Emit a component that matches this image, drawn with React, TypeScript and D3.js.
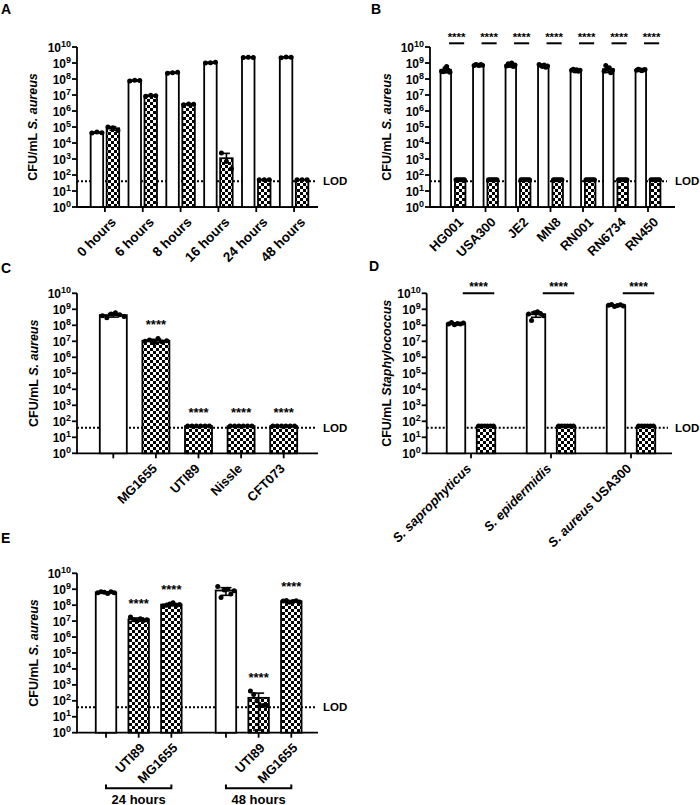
import React from 'react';
import * as d3 from 'd3';

// ---------- DATA ----------
const LOD = 40;
const decades = d3.range(0, 11);

const groupsA = ['0 hours', '6 hours', '8 hours', '16 hours', '24 hours', '48 hours'];
const ctrlA = [
  [4.2e4, 4.9e4, 4.4e4],
  [7.5e7, 8.5e7, 8e7],
  [2.3e8, 2.5e8, 2.6e8],
  [1.0e9, 1.05e9, 1.1e9],
  [2.2e9, 2.3e9, 2.2e9],
  [2.1e9, 2.4e9, 2.3e9],
];
const treatA = [
  [1e5, 9e4, 6e4],
  [8.5e6, 9.5e6, 9e6],
  [2.5e6, 2.7e6, 2.6e6],
  [2400, 700, 250],
  [50, 50, 50],
  [50, 50, 50],
];

const strainsB = ['HG001', 'USA300', 'JE2', 'MN8', 'RN001', 'RN6734', 'RN450'];
const ctrlB = [
  [3e8, 2.8e8, 4.5e8, 6e8, 3.5e8, 2.6e8],
  [7e8, 8e8, 7.5e8, 7e8, 8e8, 7.2e8],
  [6.5e8, 9e8, 7e8, 1e9, 6e8, 7.5e8],
  [8e8, 7e8, 6e8, 7.5e8, 5.5e8, 6.5e8],
  [3.5e8, 4e8, 3.2e8, 3.8e8, 3e8, 3.5e8],
  [3e8, 7e8, 4e8, 5e8, 2.5e8, 3.5e8],
  [3.5e8, 4e8, 3.8e8, 3.3e8, 3.6e8, 3.9e8],
];
const treatB = strainsB.map(() => [50, 50, 50, 50, 50, 50]);

const labelsC = ['', 'MG1655', 'UTI89', 'Nissle', 'CFT073'];
const kindC = ['ctrl', 'treat', 'treat', 'treat', 'treat'];
const valuesC = [
  [4e8, 3e8, 5e8, 6e8, 4.5e8, 3.5e8],
  [1e7, 1.2e7, 8e6, 1.5e7, 9e6, 1.1e7],
  [50, 50, 50, 50, 50, 50],
  [50, 50, 50, 50, 50, 50],
  [50, 50, 50, 50, 50, 50],
];
const starsC = [false, true, true, true, true];

const speciesD = [
  [{ t: 'S. saprophyticus', i: true }],
  [{ t: 'S. epidermidis', i: true }],
  [{ t: 'S. aureus', i: true }, { t: ' USA300', i: false }],
];
const ctrlD = [
  [1.2e8, 1.5e8, 1.1e8, 1.3e8, 1.2e8, 1.4e8],
  [5e8, 2e8, 6e8, 7e8, 5.5e8, 4e8],
  [1.8e9, 2e9, 1.5e9, 1.7e9, 1.9e9, 1.6e9],
];
const treatD = speciesD.map(() => [50, 50, 50, 50, 50, 50]);

const labelsE = ['', 'UTI89', 'MG1655', '', 'UTI89', 'MG1655'];
const kindE = ['ctrl', 'treat', 'treat', 'ctrl', 'treat', 'treat'];
const timesE = ['24 hours', '48 hours'];
const valuesE = [
  [6e8, 7e8, 6.5e8, 5.5e8, 7e8, 6e8],
  [1.8e7, 1.2e7, 1e7, 1.4e7, 1.1e7, 1.2e7],
  [9e7, 1e8, 1.2e8, 1.4e8, 9.5e7, 1.1e8],
  [1.5e9, 3e8, 9e8, 1e9, 5e8, 8e8],
  [420, 250, 100, 50, 50, 50],
  [1.8e8, 2e8, 1.5e8, 1.7e8, 1.9e8, 1.6e8],
];
const starsE = [false, true, true, false, true, true];

// ---------- DRAWING ----------
const FONT = "'Liberation Sans', Arial, Helvetica, sans-serif";
const SW = 1.8;

type Seg = { t: string; i: boolean };

function Bar({ cx, w, pts, kind, y }: any) {
  const m = d3.mean(pts) as number;
  const sd = pts.length > 1 ? (d3.deviation(pts) as number) : 0;
  const base = y.range()[0];
  const top = y(m);
  const n = pts.length;
  const spacing = n > 1 ? Math.min((w * 0.8) / (n - 1), 5) : 0;
  const cap = Math.min(w * 0.55, 11);
  return (
    <g>
      <rect x={cx - w / 2} y={top} width={w} height={base - top}
        fill={kind === 'ctrl' ? '#fff' : 'url(#check)'} stroke="#000" strokeWidth={SW} />
      {sd > 0 && (
        <g stroke="#000" strokeWidth={1.6}>
          <line x1={cx} x2={cx} y1={y(m + sd)} y2={m - sd > 1 ? y(m - sd) : top} />
          <line x1={cx - cap / 2} x2={cx + cap / 2} y1={y(m + sd)} y2={y(m + sd)} />
          {m - sd > 1 && <line x1={cx - cap / 2} x2={cx + cap / 2} y1={y(m - sd)} y2={y(m - sd)} />}
        </g>
      )}
      {pts.map((v: number, i: number) => (
        <circle key={i} cx={cx + (i - (n - 1) / 2) * spacing} cy={y(v)} r={2.5} fill="#000" />
      ))}
    </g>
  );
}

function Axes({ x0, x1, y, title, titleX }: { x0: number; x1: number; y: any; title: Seg[]; titleX: number }) {
  const [b, t] = y.range();
  return (
    <g fontFamily={FONT} fontWeight="bold">
      <line x1={x0} x2={x0} y1={b} y2={t} stroke="#000" strokeWidth={SW} />
      <line x1={x0 - 0.9} x2={x1} y1={b} y2={b} stroke="#000" strokeWidth={SW} />
      {decades.map((e) => (
        <g key={e}>
          <line x1={x0 - 5} x2={x0} y1={y(10 ** e)} y2={y(10 ** e)} stroke="#000" strokeWidth={SW} />
          <text x={x0 - 6} y={y(10 ** e) + 4.5} textAnchor="end" fontSize={12}>
            10<tspan dy={-5} fontSize={9}>{e}</tspan>
          </text>
        </g>
      ))}
      <text transform={`translate(${titleX},${(b + t) / 2}) rotate(-90)`} textAnchor="middle" fontSize={12.5}>
        {title.map((s, i) => (
          <tspan key={i} fontStyle={s.i ? 'italic' : 'normal'}>{s.t}</tspan>
        ))}
      </text>
    </g>
  );
}

function XTick({ x, b, label, dx, size = 13 }: { x: number; b: number; label: Seg[]; dx: number; size?: number }) {
  return (
    <g>
      <line x1={x} x2={x} y1={b} y2={b + 5} stroke="#000" strokeWidth={SW} />
      <text transform={`translate(${x + dx},${b + 16}) rotate(-45)`} textAnchor="end"
        fontFamily={FONT} fontWeight="bold" fontSize={size}>
        {label.map((s, i) => (
          <tspan key={i} fontStyle={s.i ? 'italic' : 'normal'}>{s.t}</tspan>
        ))}
      </text>
    </g>
  );
}

function LodLine({ x0, x1, y, textX }: any) {
  return (
    <g>
      <line x1={x0} x2={x1} y1={y(LOD)} y2={y(LOD)} stroke="#000" strokeWidth={2} strokeDasharray="2,2" />
      <text x={textX} y={y(LOD) + 4} fontFamily={FONT} fontWeight="bold" fontSize={11.5}>LOD</text>
    </g>
  );
}

function Stars({ x, yb, size = 13 }: any) {
  return (
    <text x={x} y={yb} textAnchor="middle" fontFamily={FONT} fontWeight="bold" fontSize={size}>****</text>
  );
}

const plain = (t: string): Seg[] => [{ t, i: false }];
const titleSA: Seg[] = [{ t: 'CFU/mL ', i: false }, { t: 'S. aureus', i: true }];
const titleStaph: Seg[] = [{ t: 'CFU/mL ', i: false }, { t: 'Staphylococcus', i: true }];

function PanelA() {
  const y = d3.scaleLog().domain([1, 1e10]).range([207, 47]);
  const x = d3.scaleBand().domain(groupsA).range([86, 313]);
  const w = 12.5, off = 8;
  return (
    <g>
      <Axes x0={77} x1={318} y={y} title={titleSA} titleX={37} />
      <LodLine x0={77} x1={317} y={y} textX={323} />
      {groupsA.map((g, i) => {
        const c = (x(g) as number) + x.bandwidth() / 2;
        return (
          <g key={g}>
            <Bar cx={c - off} w={w} pts={ctrlA[i]} kind="ctrl" y={y} />
            <Bar cx={c + off} w={w} pts={treatA[i]} kind="treat" y={y} />
            <XTick x={c} b={207} label={plain(g)} dx={12} size={13.5} />
          </g>
        );
      })}
    </g>
  );
}

function PanelB() {
  const y = d3.scaleLog().domain([1, 1e10]).range([207, 47]);
  const x = d3.scaleBand().domain(strainsB).range([436.75, 664.25]);
  const w = 10.5, off = 7.2;
  return (
    <g>
      <Axes x0={430} x1={675} y={y} title={titleSA} titleX={391} />
      <LodLine x0={430} x1={667} y={y} textX={675} />
      {strainsB.map((g, i) => {
        const c = (x(g) as number) + x.bandwidth() / 2;
        const lc = c + off / 2;
        return (
          <g key={g}>
            <Bar cx={c - off} w={w} pts={ctrlB[i]} kind="ctrl" y={y} />
            <Bar cx={c + off} w={w} pts={treatB[i]} kind="treat" y={y} />
            <XTick x={c} b={207} label={plain(g)} dx={11} />
            <line x1={lc - off * 1.05} x2={lc + off * 1.05} y1={43.3} y2={43.3} stroke="#000" strokeWidth={2} />
            <Stars x={lc} yb={41} size={11.5} />
          </g>
        );
      })}
    </g>
  );
}

function PanelC() {
  const y = d3.scaleLog().domain([1, 1e10]).range([453.3, 293.3]);
  const x = d3.scaleBand().domain(d3.range(labelsC.length).map(String)).range([92, 305]);
  const w = 27;
  return (
    <g>
      <Axes x0={77} x1={318} y={y} title={titleSA} titleX={38} />
      <LodLine x0={77} x1={317} y={y} textX={323} />
      {labelsC.map((g, i) => {
        const c = (x(String(i)) as number) + x.bandwidth() / 2;
        const maxY = y(d3.max(valuesC[i]) as number);
        return (
          <g key={i}>
            <Bar cx={c} w={w} pts={valuesC[i]} kind={kindC[i]} y={y} />
            <XTick x={c} b={453.3} label={plain(g)} dx={2} />
            {starsC[i] && <Stars x={c} yb={maxY - 9} />}
          </g>
        );
      })}
    </g>
  );
}

function PanelD() {
  const y = d3.scaleLog().domain([1, 1e10]).range([453.3, 293.3]);
  const x = d3.scaleBand().domain(d3.range(speciesD.length).map(String)).range([431, 671]);
  const w = 18.5, off = 15;
  return (
    <g>
      <Axes x0={426.7} x1={672} y={y} title={titleStaph} titleX={391} />
      <LodLine x0={426.7} x1={668} y={y} textX={675} />
      {speciesD.map((g, i) => {
        const c = (x(String(i)) as number) + x.bandwidth() / 2;
        const lc = c + off / 2;
        return (
          <g key={i}>
            <Bar cx={c - off} w={w} pts={ctrlD[i]} kind="ctrl" y={y} />
            <Bar cx={c + off} w={w} pts={treatD[i]} kind="treat" y={y} />
            <XTick x={c} b={453.3} label={g} dx={1} />
            <line x1={lc - off * 1.05} x2={lc + off * 1.05} y1={293.3} y2={293.3} stroke="#000" strokeWidth={2} />
            <Stars x={lc} yb={291} size={12} />
          </g>
        );
      })}
    </g>
  );
}

function PanelE() {
  const y = d3.scaleLog().domain([1, 1e10]).range([732.7, 573.3]);
  const pos = labelsE.map((_, i) => i + Math.floor(i / 3) * 0.67);
  const x = d3.scaleLinear().domain([0, d3.max(pos) as number]).range([106, 291.3]);
  const w = 20.5;
  return (
    <g>
      <Axes x0={77} x1={318} y={y} title={titleSA} titleX={38} />
      <LodLine x0={77} x1={317} y={y} textX={323} />
      {labelsE.map((g, i) => {
        const c = x(pos[i]);
        const maxY = y(d3.max(valuesE[i]) as number);
        return (
          <g key={i}>
            <Bar cx={c} w={w} pts={valuesE[i]} kind={kindE[i]} y={y} />
            <XTick x={c} b={732.7} label={plain(g)} dx={7} />
            {starsE[i] && <Stars x={c} yb={maxY - 9} />}
          </g>
        );
      })}
      {timesE.map((t, gi) => {
        const a = x(pos[gi * 3]);
        const b = x(pos[gi * 3 + 2]);
        return (
          <g key={t}>
            <path d={`M${a},784.5V788.3H${b}V784.5`} fill="none" stroke="#000" strokeWidth={2} />
            <text x={(a + b) / 2} y={803.5} textAnchor="middle" fontFamily={FONT} fontWeight="bold" fontSize={13}>{t}</text>
          </g>
        );
      })}
    </g>
  );
}

function Letter({ x, y, t }: any) {
  return <text x={x} y={y} fontFamily={FONT} fontWeight="bold" fontSize={14}>{t}</text>;
}

export default function App() {
  return (
    <svg width={700} height={805} style={{ position: 'absolute', left: 0, top: 0, background: '#fff' }}>
      <defs>
        <pattern id="check" width={6} height={6} patternUnits="userSpaceOnUse">
          <rect width={6} height={6} fill="#fff" />
          <rect width={3} height={3} fill="#000" />
          <rect x={3} y={3} width={3} height={3} fill="#000" />
        </pattern>
      </defs>
      <rect width={700} height={805} fill="#fff" />
      <Letter x={1} y={14} t="A" />
      <Letter x={371} y={14} t="B" />
      <Letter x={1} y={273} t="C" />
      <Letter x={369} y={271} t="D" />
      <Letter x={1} y={543} t="E" />
      <PanelA />
      <PanelB />
      <PanelC />
      <PanelD />
      <PanelE />
    </svg>
  );
}
